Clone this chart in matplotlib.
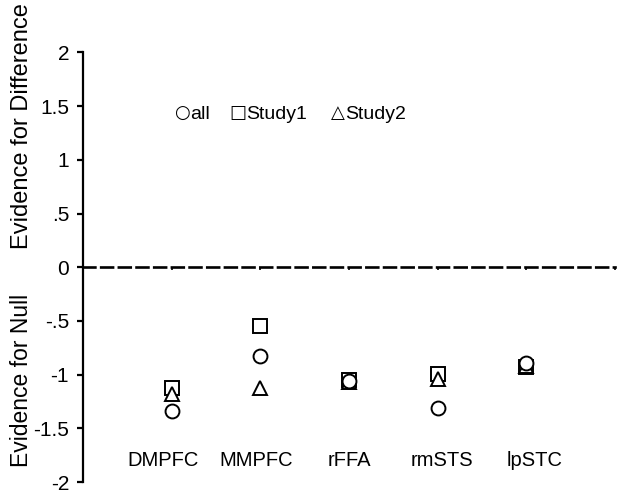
import matplotlib
matplotlib.use('Agg')
import matplotlib.pyplot as plt

plt.rcParams['font.family'] = ['Liberation Sans', 'DejaVu Sans']

# Datos
regiones = ['DMPFC', 'MMPFC', 'rFFA', 'rmSTS', 'lpSTC']
todos = [-1.34, -0.83, -1.06, -1.31, -0.89]
estudio1 = [-1.12, -0.55, -1.05, -0.99, -0.93]
estudio2 = [-1.18, -1.12, -1.07, -1.04, -0.92]
yticks = [2, 1.5, 1, 0.5, 0, -0.5, -1, -1.5, -2]
yticklabels = ['2', '1.5', '1', '.5', '0', '-.5', '-1', '-1.5', '-2']

fig = plt.figure(figsize=(6.17, 4.94), dpi=100)
ax = fig.add_axes([0.1345, 0.024, 0.862, 0.870])

x = range(len(regiones))
estilo = dict(linestyle='none', markersize=10, markerfacecolor='white',
              markeredgecolor='black', markeredgewidth=1.4)
ax.plot(x, estudio1, marker='s', **estilo)
ax.plot(x, estudio2, marker='^', **estilo)
ax.plot(x, todos, marker='o', **estilo)

# Leyenda como texto (símbolo + nombre)
leyenda = [(0.03, '\u25cb', 'all'), (0.65, '\u25a1', 'Study1'), (1.80, '\u25b3', 'Study2')]
for xl, simb, nombre in leyenda:
    t = ax.text(xl, 1.44, simb, fontsize=13, va='center', family=['DejaVu Sans'])
    ax.annotate(nombre, xy=(1, 0.5), xycoords=t, fontsize=14, va='center',
                xytext=(0, -1.5), textcoords='offset points')

# Etiquetas de regiones
for i, r in enumerate(regiones):
    ax.text(i * 1.05 - 0.1, -1.80, r, fontsize=14.5, ha='center', va='center')

ax.set_xlim(-1, 5)
ax.set_ylim(-2, 2)
ax.set_yticks(yticks)
ax.set_yticklabels(yticklabels, fontsize=15)
ax.set_xticks(range(6))
ax.set_xticklabels([])

for s in ['top', 'right']:
    ax.spines[s].set_visible(False)
ax.spines['left'].set_linewidth(1.6)
ax.spines['bottom'].set_position(('data', 0))
ax.spines['bottom'].set_linestyle((0, (4.5, 2.2)))
ax.spines['bottom'].set_linewidth(1.9)
ax.tick_params(axis='y', length=4, width=1.6, direction='out', pad=6)
ax.tick_params(axis='x', length=2, width=1.2, direction='out')

fig.text(0.035, 0.745, 'Evidence for Difference', rotation=90, fontsize=17,
         ha='center', va='center')
fig.text(0.035, 0.23, 'Evidence for Null', rotation=90, fontsize=16.5,
         ha='center', va='center')

plt.savefig('out.png', dpi=100)
